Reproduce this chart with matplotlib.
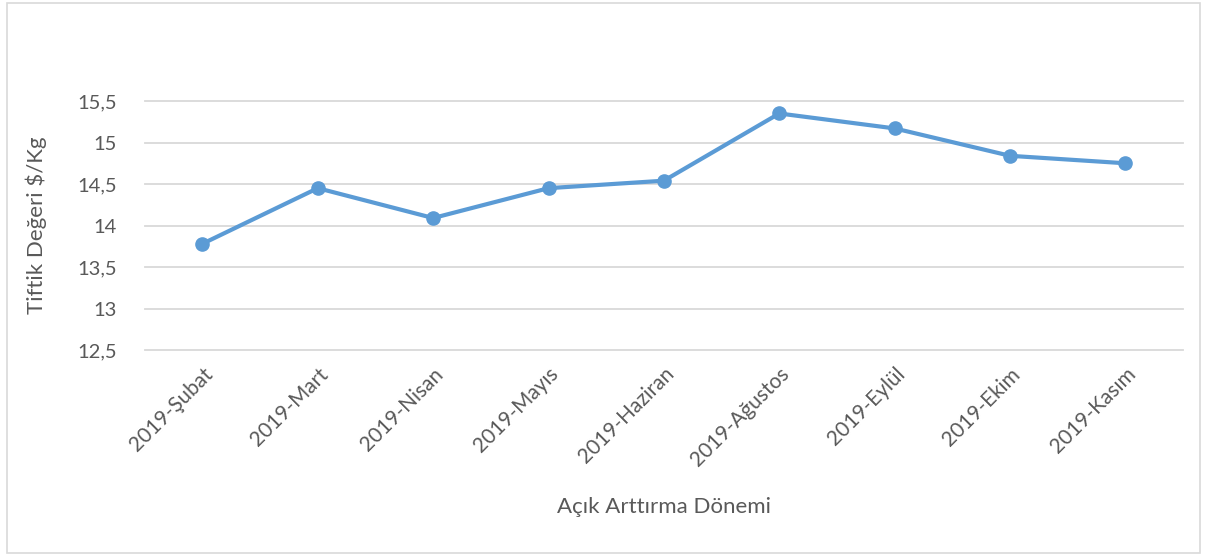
import matplotlib.pyplot as plt
from matplotlib.patches import Rectangle

months = ["2019-Şubat", "2019-Mart", "2019-Nisan", "2019-Mayıs", "2019-Haziran",
          "2019-Ağustos", "2019-Eylül", "2019-Ekim", "2019-Kasım"]
prices = [13.78, 14.45, 14.09, 14.45, 14.54, 15.35, 15.17, 14.84, 14.75]
yticks = [12.5, 13, 13.5, 14, 14.5, 15, 15.5]
ytick_labels = ["12,5", "13", "13,5", "14", "14,5", "15", "15,5"]

text_color = "#595959"
grid_color = "#d9d9d9"
line_color = "#5b9bd5"

plt.rcParams["font.family"] = ["Lato", "DejaVu Sans"]

fig = plt.figure(figsize=(12.06, 5.56), dpi=100)
fig.patch.set_facecolor("white")
fig.patches.append(Rectangle((0.006, 0.006), 0.989, 0.988, transform=fig.transFigure,
                             fill=False, edgecolor=grid_color, linewidth=1.2))

ax = fig.add_axes([0.120, 0.3705, 0.861, 0.4478])
x = list(range(len(months)))
ax.plot(x, prices, color=line_color, linewidth=3, marker="o", markersize=9.5,
        solid_capstyle="round", zorder=3)

ax.set_xlim(-0.5, len(months) - 0.5)
ax.set_ylim(12.5, 15.5)
ax.set_yticks(yticks)
ax.set_yticklabels(ytick_labels)
ax.set_xticks(x)
ax.set_xticklabels(months, rotation=45, ha="right", rotation_mode="anchor")

ax.grid(axis="y", color=grid_color, linewidth=1.3)
for gl in ax.get_ygridlines():
    gl.set_clip_on(False)
ax.set_axisbelow(True)
for s in ax.spines.values():
    s.set_visible(False)
ax.tick_params(axis="both", length=0, labelsize=14.5, colors=text_color)
ax.tick_params(axis="x", labelsize=15)
ax.tick_params(axis="y", pad=20)
ax.tick_params(axis="x", pad=10)

ax.set_ylabel("Tiftik Değeri $/Kg", fontsize=16, color=text_color, labelpad=22)
ax.set_xlabel("Açık Arttırma Dönemi", fontsize=16, color=text_color, labelpad=19)

fig.savefig("out.png", dpi=100, facecolor="white")
